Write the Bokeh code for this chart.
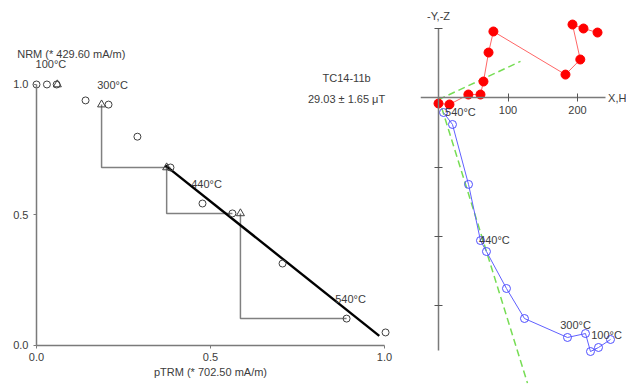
from bokeh.plotting import figure
from bokeh.layouts import row
from bokeh.models import Range1d, FixedTicker, LinearAxis, Label, PrintfTickFormatter, CustomJSTickFormatter
from bokeh.core.properties import value
from bokeh.embed import file_html
from bokeh.resources import INLINE

FONT = "Liberation Sans"
TXT = "#3c3c3c"
AXC = "#7a7a7a"

# ---------------- Arai plot data (normalised) ----------------
arai_ptrm = [0.0, 0.03, 0.058, 0.141, 0.207, 0.29, 0.385, 0.477, 0.563, 0.707, 0.891, 1.003]
arai_nrm = [1.0, 1.0, 1.0, 0.939, 0.923, 0.80, 0.682, 0.544, 0.506, 0.314, 0.103, 0.05]
check_ptrm = [0.06, 0.187, 0.374, 0.586]
check_nrm = [1.0, 0.923, 0.682, 0.506]
check_ref = [None, 6, 8, 10]
fit_ptrm = [0.37, 0.985]
fit_nrm = [0.69, 0.037]
label_idx = [1, 4, 7, 10]
label_text = ["100°C", "300°C", "440°C", "540°C"]
arai_ticks = [0.0, 0.5, 1.0]

# ---------------- Zijderveld data ----------------
zij_x = [228.8, 208.6, 192.8, 204.0, 182.7, 79.0, 72.0, 64.7, 60.4, 43.0, 15.8, 0.0]
zij_minus_y = [93.5, 99.3, 105.0, 54.7, 33.0, 95.0, 64.7, 23.0, 4.3, 4.3, -10.0, -8.6]
zij_h = [247.5, 230.2, 218.7, 211.5, 185.6, 123.7, 97.8, 69.0, 60.4, 43.2, 20.1, 7.2]
zij_minus_z = [-348.2, -359.7, -365.5, -339.6, -345.3, -318.0, -274.8, -221.6, -205.8, -125.0, -38.8, -21.6]
fit_h_x = [0, 118]
fit_h_y = [-3, 52]
fit_v_x = [0, 128]
fit_v_y = [0, -411]
zij_xticks = [100, 200]
zij_yticks = [100, -100, -200, -300]

# ================= Arai plot =================
p1 = figure(width=420, height=385, x_range=Range1d(-0.1034, 1.1034), y_range=Range1d(-0.1533, 1.3218),
            output_backend="svg", toolbar_location=None, min_border=0,
            x_axis_location=None, y_axis_location=None)
p1.outline_line_color = None
p1.grid.visible = False

xa = LinearAxis(fixed_location=0, bounds=(0, 1), ticker=FixedTicker(ticks=arai_ticks),
                formatter=PrintfTickFormatter(format="%.1f"), axis_label="pTRM (* 702.50 mA/m)")
ya = LinearAxis(fixed_location=0, bounds=(0, 1), ticker=FixedTicker(ticks=arai_ticks),
                formatter=PrintfTickFormatter(format="%.1f"))
for ax in (xa, ya):
    ax.axis_line_color = AXC
    ax.axis_line_width = 1.5
    ax.major_tick_line_color = AXC
    ax.major_tick_in = 0
    ax.major_tick_out = 3
    ax.minor_tick_line_color = None
    ax.major_label_text_font = FONT
    ax.major_label_text_font_size = "11px"
    ax.major_label_text_color = TXT
    ax.major_label_standoff = 5
    ax.axis_label_text_font = FONT
    ax.axis_label_text_font_size = "11px"
    ax.axis_label_text_font_style = "normal"
    ax.axis_label_text_color = TXT
    ax.axis_label_standoff = 1
p1.add_layout(xa, "below")
p1.add_layout(ya, "left")

xs, ys = [], []
for cx, cy, r in zip(check_ptrm, check_nrm, check_ref):
    if r is None:
        continue
    xs.append([cx, cx, arai_ptrm[r]])
    ys.append([cy, arai_nrm[r], arai_nrm[r]])
p1.multi_line(xs, ys, line_color="#808080", line_width=1.5)
p1.line(fit_ptrm, fit_nrm, line_color="black", line_width=2.4)
p1.scatter(arai_ptrm, arai_nrm, marker="circle", size=7, fill_color=None, line_color="#404040", line_width=1)
p1.scatter(check_ptrm, check_nrm, marker="triangle", size=8, fill_color=None, line_color="#404040", line_width=1)
p1.text([arai_ptrm[i] for i in label_idx], [arai_nrm[i] for i in label_idx], text=label_text,
        x_offset=4, y_offset=-20, text_align="center", text_baseline="middle",
        text_font=value(FONT), text_font_size="11px", text_color=TXT)

for txt, x, y in [("NRM (* 429.60 mA/m)", 0.10, 1.115), ("TC14-11b", 0.891, 1.023),
                  ("29.03 ± 1.65 μT", 0.891, 0.9425)]:
    p1.add_layout(Label(x=x, y=y, text=txt, text_align="center", text_baseline="middle",
                        text_font=FONT, text_font_size="11px", text_color=TXT))

# ================= Zijderveld plot =================
p2 = figure(width=206, height=385, x_range=Range1d(-25.9, 270.5), y_range=Range1d(-414.4, 139.6),
            output_backend="svg", toolbar_location=None, min_border=0,
            x_axis_location=None, y_axis_location=None)
p2.outline_line_color = None
p2.grid.visible = False

hx = LinearAxis(fixed_location=0, bounds=(-26, 240), ticker=FixedTicker(ticks=zij_xticks))
vy = LinearAxis(fixed_location=0, bounds=(-364, 100), ticker=FixedTicker(ticks=zij_yticks),
                formatter=CustomJSTickFormatter(code="return ''"))
for ax in (hx, vy):
    ax.axis_line_color = AXC
    ax.axis_line_width = 1.5
    ax.major_tick_line_color = "#555555"
    ax.major_tick_in = 4
    ax.major_tick_out = 4
    ax.minor_tick_line_color = None
    ax.major_label_text_font = FONT
    ax.major_label_text_font_size = "11px"
    ax.major_label_text_color = TXT
    ax.major_label_standoff = 4
p2.add_layout(hx, "below")
p2.add_layout(vy, "left")

p2.multi_line([fit_h_x, fit_v_x], [fit_h_y, fit_v_y], line_color="#77dd55", line_width=1.5, line_dash="7 4")
p2.line(zij_x, zij_minus_y, line_color="#ff6666", line_width=1)
p2.scatter(zij_x, zij_minus_y, marker="circle", size=9, fill_color="#ff0000", line_color="#ff0000")
p2.line(zij_h, zij_minus_z, line_color="#6060ff", line_width=1)
p2.scatter(zij_h, zij_minus_z, marker="circle", size=8, fill_color=None, line_color="#5050ff", line_width=1)
p2.text([zij_h[i] for i in label_idx], [zij_minus_z[i] for i in label_idx], text=label_text,
        x_offset=8, y_offset=-12, text_align="center", text_baseline="middle",
        text_font=value(FONT), text_font_size="11px", text_color=TXT)
p2.add_layout(Label(x=244, y=0, text="X,H", text_align="left", text_baseline="middle",
                    text_font=FONT, text_font_size="11px", text_color=TXT))
p2.add_layout(Label(x=0, y=118, text="-Y,-Z", text_align="center", text_baseline="middle",
                    text_font=FONT, text_font_size="11px", text_color=TXT))

layout = row(p1, p2)
open("out.html", "w").write(file_html(layout, INLINE))
